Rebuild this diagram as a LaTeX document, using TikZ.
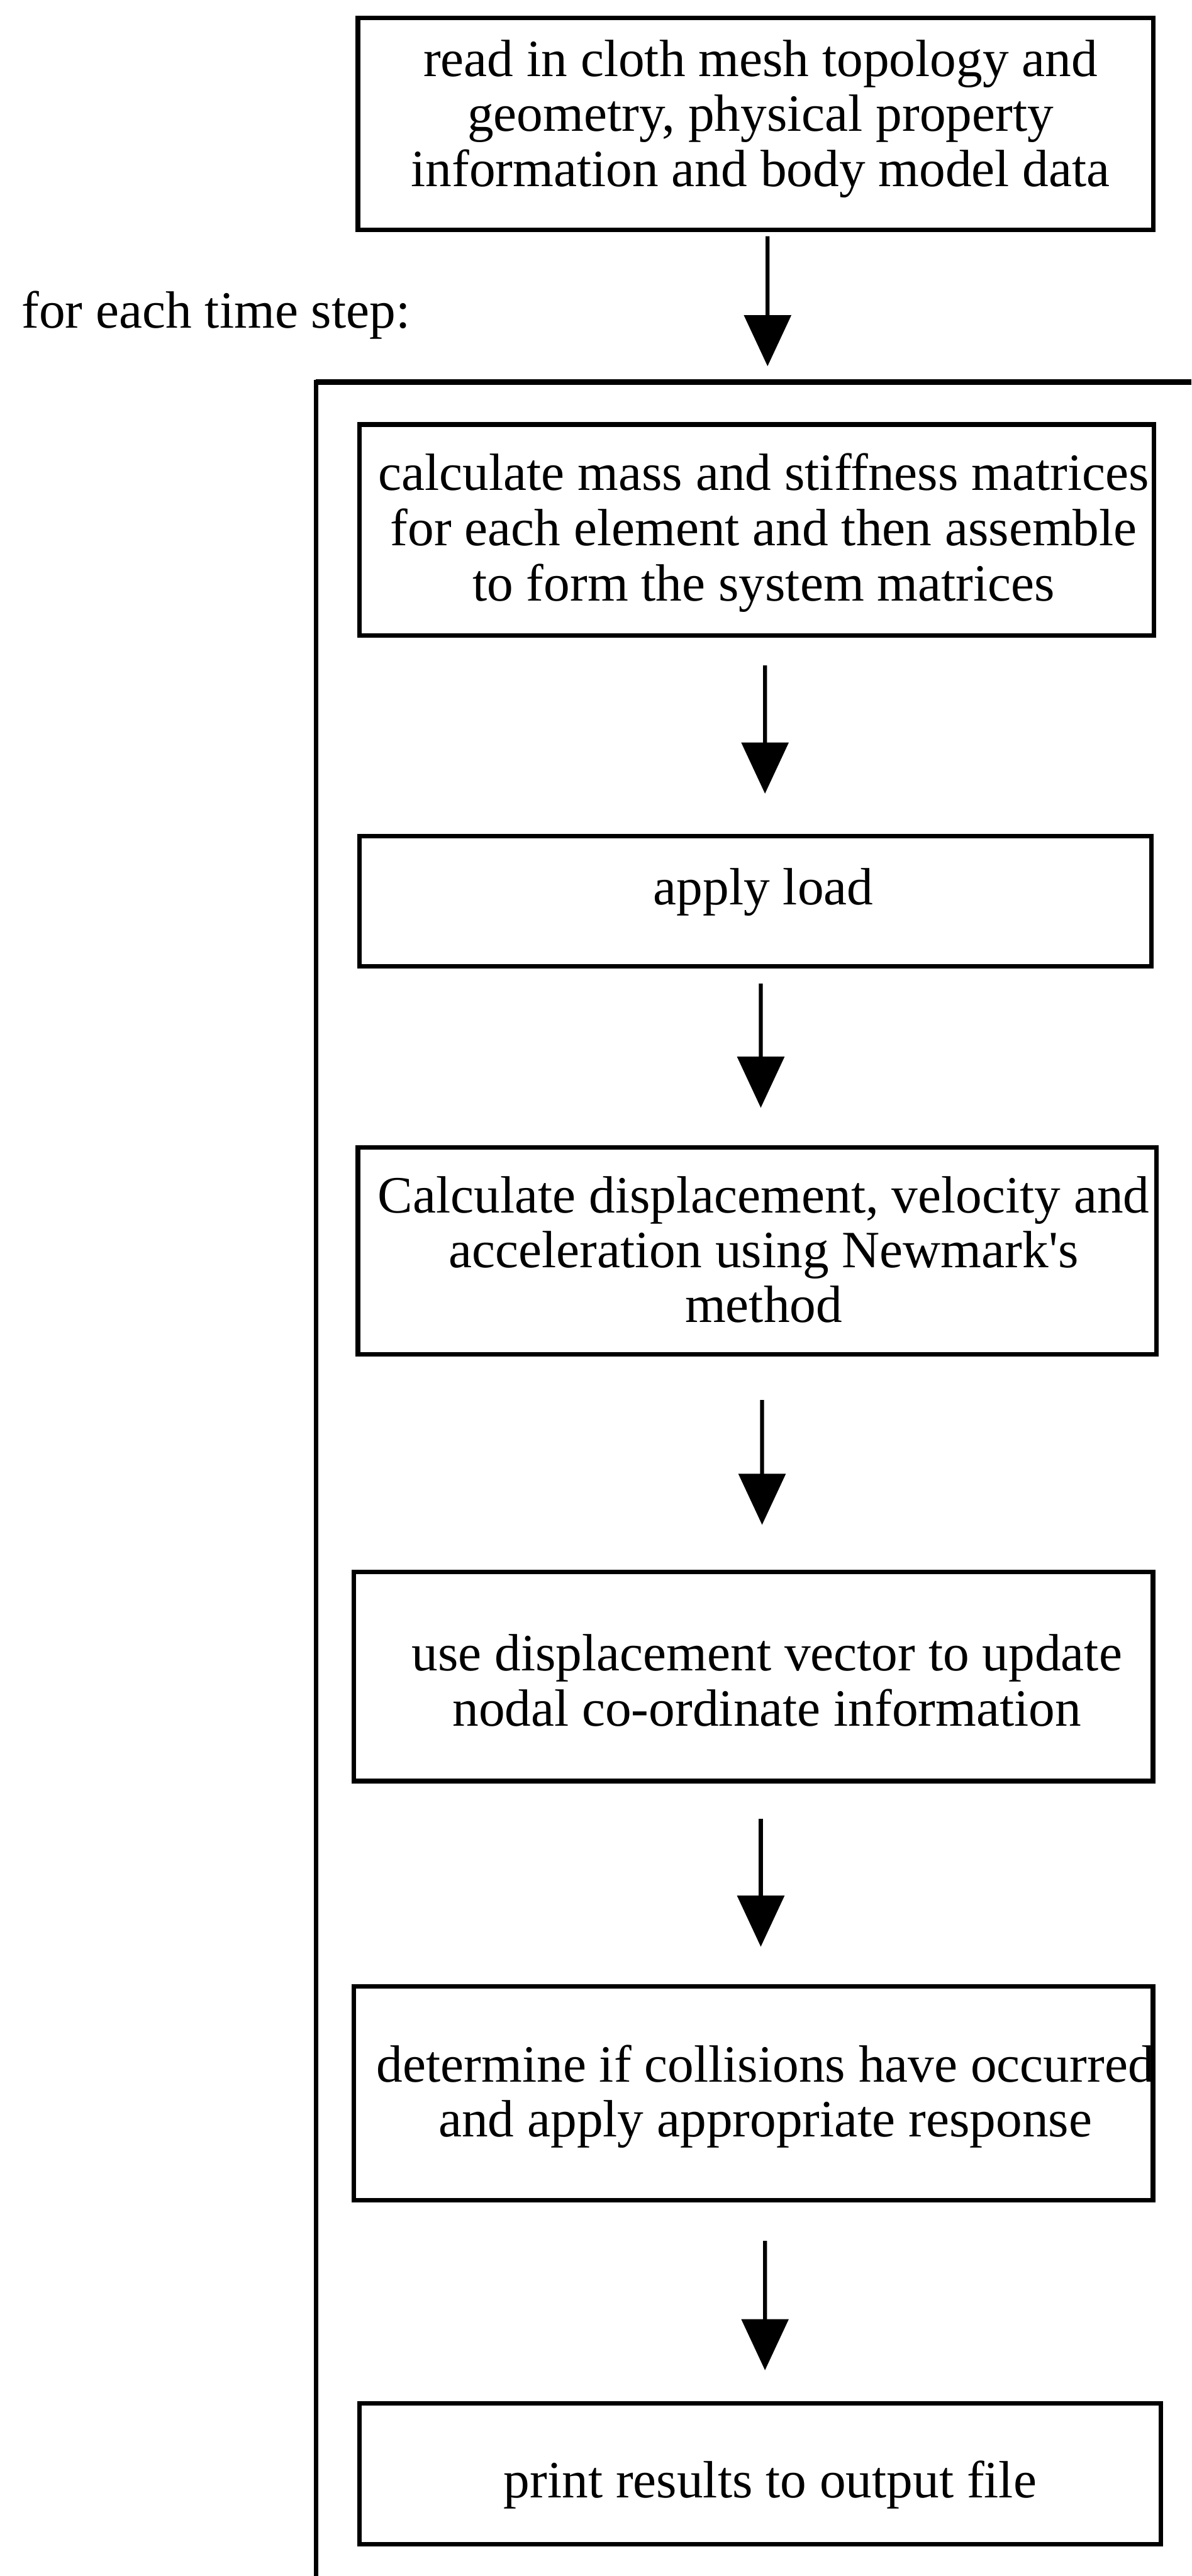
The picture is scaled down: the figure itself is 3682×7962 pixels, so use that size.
\documentclass[tikz,border=0pt]{standalone}
\usepackage{fontspec}
\setmainfont{Liberation Serif}
\usetikzlibrary{arrows.meta}
\tikzset{
  procbox/.style={draw, line width=1.4pt, rectangle, inner sep=0pt, outer sep=0pt},
  boxtext/.style={anchor=north, inner sep=0pt, outer sep=0pt, align=center,
                  font=\fontsize{16.2pt}{15.7pt}\selectfont},
  flowarrow/.style={line width=1.2pt, -{Triangle[length=15.8pt, width=14.4pt]}},
  loopframe/.style={line width=1.35pt, line join=miter}
}
\begin{document}
\begin{tikzpicture}[x=0.1pt, y=-0.1pt]
\useasboundingbox (0,0) rectangle (3682,7962);

% loop frame (open to the right and bottom)
\coordinate (lc) at (976,1181);
\coordinate (lr) at (3682,1181);
\coordinate (lb) at (976,7962);
\draw[loopframe] (lr) -- (lc) -- (lb);
\draw[line width=1.8pt] (lc) -- (lr);

% label
\node[boxtext, anchor=north west] (lbl) at (67,899) {\strut for each time step:};

% boxes
\node[procbox, minimum width=245.8pt, minimum height=65.5pt] (b1) at (2335,382.5) {};
\node[procbox, minimum width=245.5pt, minimum height=65.3pt] (b2) at (2338.5,1638.5) {};
\node[procbox, minimum width=244.8pt, minimum height=40.2pt] (b3) at (2335,2786) {};
\node[procbox, minimum width=246.8pt, minimum height=64.0pt] (b4) at (2340,3866) {};
\node[procbox, minimum width=247.0pt, minimum height=64.6pt] (b5) at (2328,5182) {};
\node[procbox, minimum width=247.0pt, minimum height=66.1pt] (b6) at (2328,6469.5) {};
\node[procbox, minimum width=247.7pt, minimum height=43.5pt] (b7) at (2349.5,7646.5) {};

% texts
\node[boxtext] (t1) at (2350,124) {\strut read in cloth mesh topology and\\\strut geometry, physical property\\\strut information and body model data};
\node[boxtext] (t2) at (2360,1401) {\strut calculate mass and stiffness matrices\\\strut for each element and then assemble\\\strut to form the system matrices};
\node[boxtext] (t3) at (2359,2683) {\strut apply load};
\node[boxtext] (t4) at (2360,3636) {\strut Calculate displacement, velocity and\\\strut acceleration using Newmark\textquotesingle s\\\strut method};
\node[boxtext] (t5) at (2370,5052) {\strut use displacement vector to update\\\strut nodal co-ordinate information};
\node[boxtext] (t6) at (2365,6320) {\strut determine if collisions have occurred\\\strut and apply appropriate response};
\node[boxtext] (t7) at (2380,7605) {\strut print results to output file};

% arrows
\draw[flowarrow] ([xshift=3.7pt,yshift=-2pt]b1.south) -- ([xshift=3.35pt,yshift=18pt]b2.north);
\draw[flowarrow] ([xshift=2.55pt,yshift=-9.2pt]b2.south) -- ([xshift=2.9pt,yshift=13.2pt]b3.north);
\draw[flowarrow] ([xshift=1.6pt,yshift=-5.3pt]b3.south) -- ([xshift=1.1pt,yshift=12.2pt]b4.north);
\draw[flowarrow] ([xshift=1.5pt,yshift=-14.1pt]b4.south) -- ([xshift=2.7pt,yshift=14.6pt]b5.north);
\draw[flowarrow] ([xshift=2.3pt,yshift=-11.6pt]b5.south) -- ([xshift=2.3pt,yshift=12.2pt]b6.north);
\draw[flowarrow] ([xshift=3.6pt,yshift=-12.6pt]b6.south) -- ([xshift=1.45pt,yshift=10.3pt]b7.north);
\end{tikzpicture}
\end{document}
